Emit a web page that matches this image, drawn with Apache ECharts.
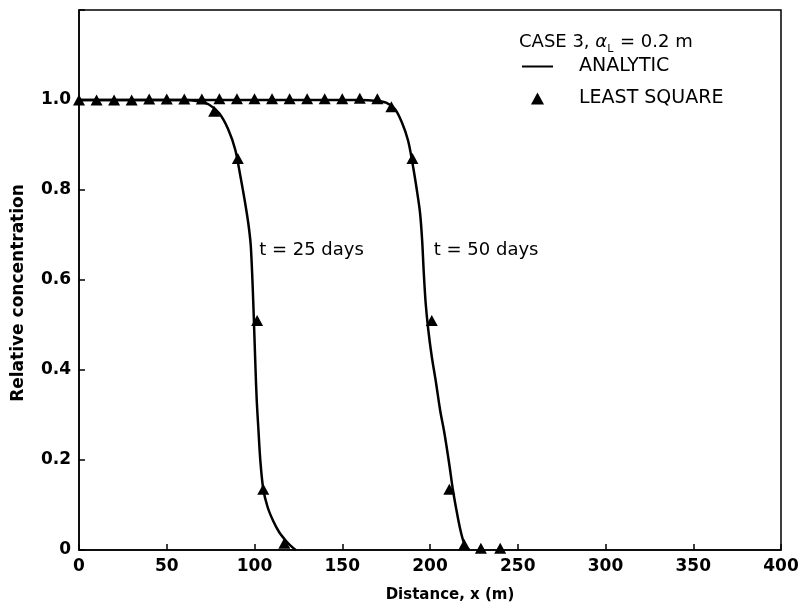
<!DOCTYPE html>
<html>
<head>
<meta charset="utf-8">
<script src="https://cdn.jsdelivr.net/npm/echarts@6/dist/echarts.min.js"></script>
<style>
  html, body { margin: 0; padding: 0; background: #fff; }
  #main { width: 807px; height: 611px; }
</style>
</head>
<body>
<div id="main"></div>
<script>
// analytic solution, t = 25 days
var analytic25X = [0, 40, 60, 68, 74, 80, 85, 89, 92, 94.5, 96.5, 97.8, 98.6, 99.3, 100, 100.6, 101.3, 102.2, 103.3, 105, 107.5, 110.6, 114, 118, 121, 123.5];
var analytic25Y = [1, 1, 1, 0.997, 0.99, 0.97, 0.935, 0.89, 0.83, 0.775, 0.725, 0.68, 0.62, 0.55, 0.47, 0.4, 0.33, 0.27, 0.2, 0.135, 0.095, 0.065, 0.04, 0.02, 0.008, 0];
// analytic solution, t = 50 days
var analytic50X = [0, 100, 160, 170, 175, 180, 184, 187.5, 190, 192.5, 194.3, 195.5, 196.4, 197.5, 199, 201, 203.3, 205.8, 208.2, 211, 213, 215, 217, 219, 220.8, 222.5];
var analytic50Y = [1, 1, 1, 0.998, 0.994, 0.98, 0.95, 0.91, 0.86, 0.8, 0.75, 0.69, 0.62, 0.55, 0.49, 0.43, 0.375, 0.31, 0.26, 0.19, 0.135, 0.09, 0.05, 0.02, 0.006, 0];
// least square solution
var lsq25X = [77, 90.5, 101.5, 105, 117];
var lsq25Y = [0.975, 0.87, 0.51, 0.135, 0.015];
var lsq50X = [0, 10, 20, 30, 40, 50, 60, 70, 80, 90, 100, 110, 120, 130, 140, 150, 160, 170, 178, 190, 201, 211, 219.5, 229, 240];
var lsq50Y = [1, 1, 1, 1, 1.002, 1.002, 1.002, 1.002, 1.003, 1.003, 1.003, 1.003, 1.003, 1.003, 1.003, 1.003, 1.004, 1.003, 0.985, 0.87, 0.51, 0.135, 0.012, 0.004, 0.004];
// curve labels
var curveLabels = ['t = 25 days', 't = 50 days'];
var curveLabelX = [101.5, 201];
var curveLabelY = [0.667, 0.667];

var FONT = 'DejaVu Sans';

function zip(xs, ys) {
    return xs.map(function (x, i) { return [x, ys[i]]; });
}

var myChart = echarts.init(document.getElementById('main'), null, {renderer: 'canvas'});

myChart.setOption({
    animation: false,
    backgroundColor: '#fff',
    title: {
        left: 514,
        top: 25,
        text: '{a|CASE 3, }{g|α}{s|L}{a| = 0.2 m}',
        textStyle: {
            rich: {
                a: {fontFamily: FONT, fontSize: 18, fontWeight: 'normal', color: '#000'},
                g: {fontFamily: FONT, fontSize: 18, fontWeight: 'normal', color: '#000', fontStyle: 'italic'},
                s: {fontFamily: FONT, fontSize: 11, fontWeight: 'normal', color: '#000', padding: [14, 1, 0, 0]}
            }
        }
    },
    legend: {
        orient: 'vertical',
        left: 517,
        top: 52,
        itemWidth: 31,
        itemHeight: 12,
        itemGap: 13,
        data: [
            {name: 'ANALYTIC', icon: 'path://M0,0L31,0L31,2L0,2Z'},
            {name: 'LEAST SQUARE', icon: 'path://M6,0L12,11L0,11Z'}
        ],
        itemStyle: {color: '#000'},
        textStyle: {fontFamily: FONT, fontSize: 19, color: '#000', padding: [0, 0, 0, 21]}
    },
    grid: {
        left: 79,
        right: 26,
        top: 10,
        bottom: 61,
        show: true,
        borderColor: '#000',
        borderWidth: 1.5
    },
    xAxis: {
        type: 'value',
        min: 0,
        max: 400,
        interval: 50,
        name: 'Distance, x (m)',
        nameLocation: 'middle',
        nameGap: 38,
        nameTextStyle: {fontFamily: FONT, fontSize: 15, fontWeight: 'bold', color: '#000', padding: [0, 0, 0, 40]},
        axisLine: {lineStyle: {color: '#000', width: 1.5}},
        axisTick: {inside: true, length: 6, lineStyle: {color: '#000', width: 1.5}},
        axisLabel: {fontFamily: FONT, fontSize: 17, fontWeight: 'bold', color: '#000', margin: 8},
        splitLine: {show: false}
    },
    yAxis: {
        type: 'value',
        min: 0,
        max: 1.2,
        interval: 0.2,
        name: 'Relative concentration',
        nameLocation: 'middle',
        nameGap: 52,
        nameTextStyle: {fontFamily: FONT, fontSize: 17, fontWeight: 'bold', color: '#000', padding: [0, 26, 0, 0]},
        axisLine: {lineStyle: {color: '#000', width: 1.5}},
        axisTick: {inside: true, length: 6, lineStyle: {color: '#000', width: 1.5}},
        axisLabel: {
            fontFamily: FONT, fontSize: 17, fontWeight: 'bold', color: '#000', margin: 8,
            formatter: function (v) {
                if (v === 0) return '0';
                if (v > 1.05) return '';
                return v.toFixed(1);
            }
        },
        splitLine: {show: false}
    },
    series: [
        {
            name: 'ANALYTIC',
            type: 'line',
            data: zip(analytic25X, analytic25Y),
            smooth: 0.3,
            symbol: 'none',
            itemStyle: {color: '#000'},
            lineStyle: {color: '#000', width: 2.5}
        },
        {
            name: 'ANALYTIC',
            type: 'line',
            data: zip(analytic50X, analytic50Y),
            smooth: 0.3,
            symbol: 'none',
            itemStyle: {color: '#000'},
            lineStyle: {color: '#000', width: 2.5}
        },
        {
            name: 'LEAST SQUARE',
            type: 'scatter',
            symbol: 'triangle',
            symbolSize: [12, 11],
            itemStyle: {color: '#000', opacity: 1},
            data: zip(lsq50X, lsq50Y),
            z: 3
        },
        {
            name: 'LEAST SQUARE',
            type: 'scatter',
            symbol: 'triangle',
            symbolSize: [12, 11],
            itemStyle: {color: '#000', opacity: 1},
            data: zip(lsq25X, lsq25Y),
            z: 3
        },
        {
            name: 'labels',
            type: 'scatter',
            symbolSize: 0,
            silent: true,
            itemStyle: {color: '#000', opacity: 1},
            data: curveLabels.map(function (t, i) {
                return {value: [curveLabelX[i], curveLabelY[i]], label: {formatter: t}};
            }),
            label: {
                show: true,
                position: 'right',
                distance: 2,
                fontFamily: FONT,
                fontSize: 18,
                color: '#000'
            }
        }
    ]
});
</script>
</body>
</html>
